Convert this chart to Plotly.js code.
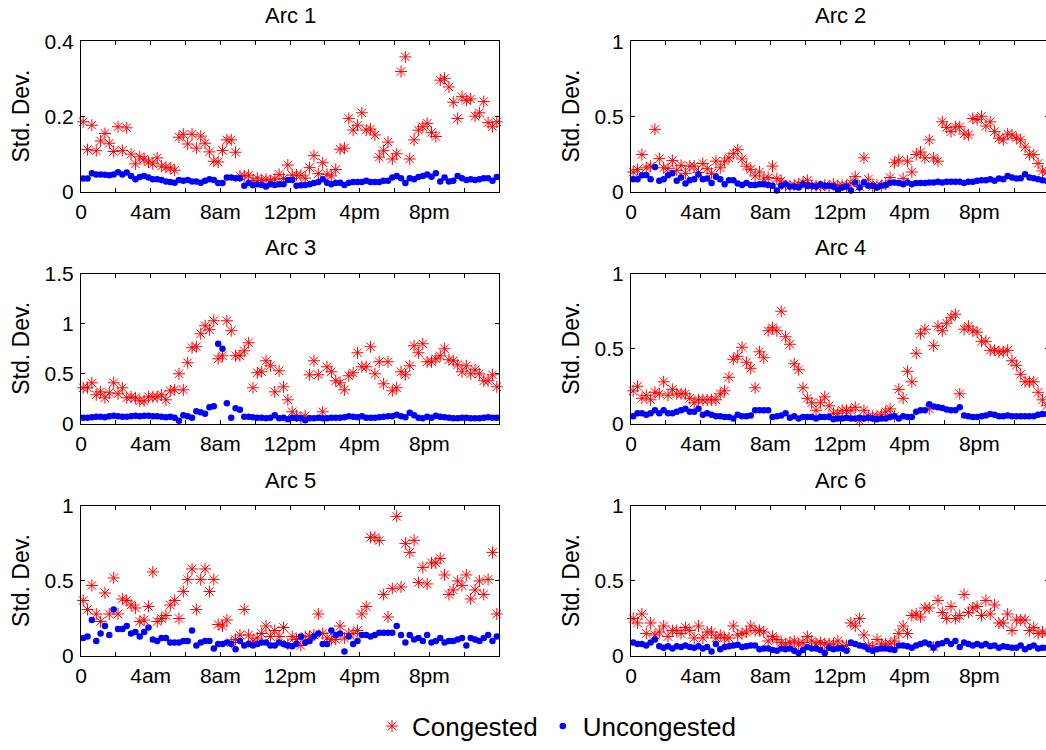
<!DOCTYPE html>
<html>
<head>
<meta charset="utf-8">
<script src="https://cdn.plot.ly/plotly-3.0.1.min.js"></script>
<style>
  html, body { margin: 0; padding: 0; overflow: hidden; background: #fff; }
  #chart { width: 1050px; height: 750px; }
</style>
</head>
<body>
<div id="chart"></div>
<script>
// ---- Data (96 fifteen-minute intervals per day) ----
const arcTitles = ["Arc 1", "Arc 2", "Arc 3", "Arc 4", "Arc 5", "Arc 6"];
const seriesNames = ["Congested", "Uncongested"];
const xTickVals = [0, 2, 4, 6, 8, 10, 12, 14, 16, 18, 20, 22];
const xTickText = ["0", "", "4am", "", "8am", "", "12pm", "", "4pm", "", "8pm", ""];
const yRanges = [[0, 0.4], [0, 1], [0, 1.5], [0, 1], [0, 1], [0, 1]];
const yTicks = [[0, 0.2, 0.4], [0, 0.5, 1], [0, 0.5, 1, 1.5], [0, 0.5, 1], [0, 0.5, 1], [0, 0.5, 1]];

const arc1Congested = [0.186,0.112,0.177,0.109,0.135,0.155,0.129,0.107,0.173,0.110,
0.170,0.100,0.074,0.093,0.087,0.079,0.074,0.090,0.068,0.065,
0.063,0.057,0.145,0.153,0.127,0.153,0.116,0.148,0.129,0.106,
0.081,0.079,0.110,0.138,0.138,0.105,0.042,0.042,0.044,0.030,
0.036,0.030,0.033,0.029,0.033,0.046,0.035,0.071,0.044,0.044,
0.044,0.036,0.064,0.096,0.048,0.077,0.046,0.042,0.059,0.113,
0.116,0.195,0.164,0.177,0.210,0.164,0.167,0.151,0.092,0.109,
0.132,0.087,0.101,0.320,0.359,0.087,0.138,0.164,0.173,0.182,
0.158,0.147,0.297,0.302,0.279,0.238,0.195,0.253,0.243,0.247,
0.201,0.210,0.240,0.184,0.173,0.186];
const arc1Uncongested = [0.035,0.035,0.049,0.046,0.046,0.045,0.044,0.046,0.052,0.046,
0.051,0.042,0.033,0.039,0.042,0.038,0.033,0.033,0.031,0.027,
0.026,0.024,0.031,0.029,0.031,0.027,0.027,0.024,0.029,0.033,
0.031,0.023,0.023,0.038,0.038,0.036,0.036,0.016,0.023,0.017,
0.020,0.018,0.014,0.020,0.018,0.020,0.020,0.031,0.031,0.016,
0.017,0.018,0.020,0.023,0.026,0.033,0.024,0.020,0.023,0.024,
0.018,0.024,0.026,0.026,0.026,0.029,0.026,0.026,0.026,0.029,
0.029,0.038,0.042,0.036,0.023,0.036,0.033,0.039,0.042,0.046,
0.040,0.049,0.027,0.038,0.027,0.029,0.042,0.036,0.031,0.033,
0.031,0.033,0.036,0.036,0.029,0.039];

const arc2Congested = [0.131,0.148,0.247,0.159,0.170,0.415,0.220,0.159,0.153,0.207,
0.142,0.175,0.122,0.170,0.170,0.127,0.188,0.153,0.122,0.203,
0.159,0.203,0.225,0.253,0.279,0.218,0.170,0.148,0.105,0.131,
0.083,0.094,0.170,0.087,0.072,0.039,0.039,0.044,0.050,0.061,
0.076,0.039,0.039,0.035,0.044,0.035,0.050,0.039,0.044,0.039,
0.057,0.100,0.035,0.225,0.083,0.035,0.044,0.039,0.050,0.094,
0.192,0.210,0.087,0.203,0.131,0.247,0.264,0.225,0.345,0.225,
0.203,0.465,0.428,0.400,0.432,0.432,0.384,0.378,0.487,0.480,
0.502,0.437,0.465,0.400,0.356,0.345,0.384,0.378,0.356,0.345,
0.297,0.247,0.247,0.188,0.138,0.130];
const arc2Uncongested = [0.083,0.083,0.109,0.111,0.083,0.164,0.072,0.083,0.109,0.122,
0.072,0.094,0.055,0.076,0.083,0.116,0.083,0.087,0.057,0.100,
0.083,0.050,0.076,0.076,0.055,0.044,0.057,0.044,0.044,0.050,
0.050,0.044,0.039,0.007,0.039,0.050,0.035,0.035,0.028,0.050,
0.039,0.039,0.035,0.050,0.039,0.039,0.035,0.013,0.028,0.035,
0.007,0.061,0.028,0.061,0.039,0.039,0.028,0.039,0.044,0.057,
0.061,0.057,0.050,0.061,0.050,0.057,0.057,0.057,0.061,0.061,
0.066,0.061,0.066,0.066,0.066,0.066,0.057,0.066,0.066,0.072,
0.076,0.076,0.083,0.072,0.087,0.083,0.105,0.094,0.087,0.090,
0.116,0.094,0.090,0.083,0.076,0.070];

const arc3Congested = [0.36,0.36,0.41,0.29,0.32,0.26,0.31,0.41,0.30,0.36,
0.26,0.27,0.26,0.23,0.23,0.27,0.27,0.27,0.29,0.24,
0.33,0.34,0.50,0.34,0.61,0.76,0.77,0.90,0.98,0.94,
1.03,0.65,0.68,1.03,0.93,0.68,0.68,0.73,0.81,0.36,
0.51,0.52,0.63,0.58,0.32,0.53,0.37,0.24,0.12,0.08,
0.06,0.08,0.49,0.63,0.49,0.12,0.57,0.52,0.43,0.41,
0.34,0.48,0.51,0.71,0.57,0.57,0.77,0.50,0.62,0.40,
0.62,0.33,0.36,0.52,0.49,0.58,0.78,0.71,0.80,0.62,
0.62,0.65,0.68,0.75,0.64,0.63,0.59,0.52,0.58,0.50,
0.54,0.50,0.43,0.43,0.49,0.37];
const arc3Uncongested = [0.060,0.060,0.065,0.070,0.070,0.065,0.075,0.080,0.075,0.070,
0.070,0.075,0.080,0.075,0.080,0.080,0.075,0.075,0.070,0.065,
0.070,0.060,0.030,0.085,0.075,0.060,0.125,0.115,0.100,0.165,
0.175,0.800,0.750,0.205,0.060,0.155,0.140,0.070,0.070,0.065,
0.060,0.060,0.055,0.060,0.085,0.055,0.060,0.045,0.060,0.055,
0.055,0.035,0.055,0.055,0.060,0.055,0.055,0.060,0.060,0.060,
0.065,0.075,0.070,0.065,0.075,0.060,0.060,0.060,0.065,0.070,
0.075,0.075,0.090,0.075,0.065,0.110,0.085,0.060,0.055,0.070,
0.060,0.080,0.070,0.065,0.060,0.055,0.055,0.060,0.060,0.055,
0.055,0.055,0.060,0.065,0.060,0.060];

const arc4Congested = [0.22,0.25,0.17,0.19,0.16,0.21,0.20,0.28,0.19,0.23,
0.20,0.20,0.20,0.17,0.14,0.16,0.16,0.16,0.16,0.16,
0.20,0.22,0.31,0.43,0.45,0.51,0.41,0.37,0.24,0.48,
0.44,0.62,0.64,0.62,0.75,0.58,0.53,0.40,0.36,0.24,
0.17,0.14,0.09,0.14,0.18,0.12,0.07,0.07,0.09,0.09,
0.09,0.11,0.02,0.09,0.05,0.05,0.05,0.06,0.08,0.10,
0.05,0.23,0.17,0.35,0.28,0.47,0.60,0.63,0.10,0.52,
0.65,0.62,0.67,0.71,0.73,0.20,0.63,0.65,0.62,0.61,
0.55,0.55,0.49,0.49,0.48,0.48,0.49,0.42,0.39,0.33,
0.28,0.28,0.28,0.21,0.16,0.12];
const arc4Uncongested = [0.050,0.070,0.070,0.060,0.070,0.090,0.070,0.090,0.070,0.070,
0.080,0.090,0.100,0.080,0.080,0.100,0.060,0.070,0.060,0.050,
0.050,0.045,0.045,0.035,0.060,0.050,0.050,0.055,0.090,0.090,
0.090,0.090,0.045,0.050,0.055,0.070,0.040,0.050,0.035,0.045,
0.045,0.045,0.035,0.045,0.045,0.045,0.030,0.035,0.035,0.040,
0.035,0.035,0.040,0.035,0.040,0.035,0.030,0.035,0.035,0.045,
0.050,0.035,0.050,0.045,0.045,0.080,0.090,0.090,0.130,0.115,
0.110,0.105,0.095,0.090,0.090,0.110,0.055,0.050,0.045,0.045,
0.050,0.055,0.065,0.060,0.050,0.050,0.055,0.050,0.050,0.050,
0.050,0.050,0.050,0.060,0.065,0.065];

const arc5Congested = [0.37,0.31,0.47,0.28,0.23,0.42,0.28,0.52,0.28,0.38,
0.37,0.34,0.32,0.23,0.24,0.33,0.56,0.23,0.25,0.27,
0.34,0.37,0.25,0.43,0.51,0.58,0.31,0.51,0.58,0.43,
0.51,0.21,0.20,0.24,0.09,0.11,0.14,0.31,0.14,0.10,
0.12,0.15,0.20,0.13,0.17,0.13,0.19,0.08,0.13,0.11,
0.07,0.13,0.13,0.14,0.28,0.15,0.12,0.11,0.11,0.20,
0.12,0.15,0.15,0.17,0.28,0.33,0.79,0.79,0.77,0.41,
0.26,0.45,0.93,0.46,0.75,0.69,0.77,0.49,0.59,0.48,
0.62,0.62,0.65,0.54,0.41,0.44,0.50,0.47,0.54,0.38,
0.44,0.50,0.41,0.51,0.69,0.28];
const arc5Uncongested = [0.12,0.13,0.24,0.10,0.15,0.20,0.14,0.31,0.18,0.18,
0.20,0.15,0.16,0.13,0.16,0.19,0.11,0.10,0.12,0.12,
0.09,0.09,0.09,0.10,0.10,0.17,0.07,0.09,0.10,0.10,
0.05,0.08,0.08,0.09,0.08,0.045,0.10,0.07,0.08,0.07,
0.08,0.09,0.09,0.07,0.07,0.09,0.08,0.07,0.065,0.08,
0.13,0.09,0.10,0.13,0.15,0.08,0.08,0.17,0.14,0.15,
0.03,0.13,0.08,0.10,0.14,0.14,0.13,0.14,0.155,0.155,
0.155,0.155,0.20,0.14,0.09,0.14,0.11,0.12,0.10,0.14,
0.09,0.10,0.12,0.09,0.10,0.10,0.11,0.12,0.07,0.12,
0.11,0.10,0.12,0.14,0.10,0.13];

const arc6Congested = [0.25,0.22,0.28,0.15,0.22,0.14,0.16,0.20,0.13,0.17,
0.17,0.15,0.19,0.17,0.12,0.20,0.12,0.16,0.16,0.12,
0.14,0.12,0.12,0.20,0.14,0.15,0.16,0.20,0.17,0.17,
0.16,0.10,0.13,0.11,0.09,0.08,0.09,0.10,0.08,0.09,
0.13,0.10,0.08,0.09,0.08,0.08,0.08,0.10,0.07,0.07,
0.22,0.20,0.25,0.14,0.07,0.06,0.11,0.08,0.08,0.08,
0.10,0.15,0.20,0.15,0.27,0.28,0.26,0.32,0.32,0.06,
0.37,0.29,0.25,0.33,0.25,0.27,0.41,0.29,0.32,0.33,
0.27,0.37,0.28,0.34,0.22,0.22,0.28,0.17,0.24,0.24,
0.24,0.17,0.19,0.15,0.16,0.15];
const arc6Uncongested = [0.090,0.080,0.080,0.070,0.090,0.110,0.065,0.055,0.065,0.050,
0.065,0.060,0.070,0.060,0.055,0.065,0.050,0.060,0.030,0.080,
0.045,0.060,0.065,0.070,0.075,0.060,0.065,0.070,0.070,0.045,
0.050,0.050,0.040,0.035,0.050,0.045,0.050,0.035,0.020,0.040,
0.060,0.050,0.050,0.040,0.020,0.055,0.045,0.050,0.050,0.035,
0.090,0.080,0.070,0.065,0.045,0.035,0.045,0.050,0.050,0.045,
0.040,0.070,0.070,0.065,0.055,0.070,0.080,0.090,0.080,0.055,
0.080,0.085,0.100,0.080,0.100,0.060,0.090,0.080,0.070,0.080,
0.070,0.080,0.065,0.070,0.055,0.065,0.060,0.055,0.055,0.070,
0.045,0.060,0.070,0.050,0.055,0.055];

const congestedSeries = [arc1Congested, arc2Congested, arc3Congested, arc4Congested, arc5Congested, arc6Congested];
const uncongestedSeries = [arc1Uncongested, arc2Uncongested, arc3Uncongested, arc4Uncongested, arc5Uncongested, arc6Uncongested];

// time of day (hours) for each 15-minute slot
const hours = arc1Congested.map((_, k) => (k + 0.5) / 4);

// ---- Layout geometry (pixels in a 1050x750 paper) ----
const W = 1050, H = 750;
const cols = [[81, 499], [631, 1049]];
const rows = [[42, 194], [277, 429], [512, 664]];
const FONT = "Liberation Sans, Arial, Helvetica, sans-serif";

const traces = [];
const layout = {
  width: W, height: H,
  margin: {l: 0, r: 0, t: 0, b: 0},
  paper_bgcolor: "#fff", plot_bgcolor: "#fff",
  font: {family: FONT, color: "#000", size: 21},
  showlegend: true,
  legend: {
    orientation: "h", x: 0.53, xanchor: "center", y: 1 - 735 / H, yanchor: "middle",
    font: {size: 26, color: "#000", family: FONT}, bgcolor: "rgba(0,0,0,0)",
    itemsizing: "trace", tracegroupgap: 0, itemwidth: 30
  },
  annotations: []
};

for (let i = 0; i < 6; i++) {
  const c = cols[i % 2], r = rows[Math.floor(i / 2)];
  const xa = i === 0 ? "xaxis" : "xaxis" + (i + 1);
  const ya = i === 0 ? "yaxis" : "yaxis" + (i + 1);
  const xr = i === 0 ? "x" : "x" + (i + 1);
  const yr = i === 0 ? "y" : "y" + (i + 1);
  const common = {
    showline: true, linecolor: "#000", linewidth: 1, mirror: "ticks",
    ticks: "inside", ticklen: 4, tickwidth: 1, tickcolor: "#000",
    showgrid: false, zeroline: false, fixedrange: true,
    tickfont: {size: 21, color: "#000", family: FONT}
  };
  layout[xa] = Object.assign({}, common, {
    domain: [c[0] / W, c[1] / W], anchor: yr, range: [0, 24],
    tickmode: "array", tickvals: xTickVals, ticktext: xTickText, ticklabelstandoff: 1
  });
  layout[ya] = Object.assign({}, common, {
    domain: [1 - r[1] / H, 1 - r[0] / H], anchor: xr, range: yRanges[i],
    tickmode: "array", tickvals: yTicks[i], ticktext: yTicks[i].map(String), ticklabelstandoff: 2
  });
  layout.annotations.push({
    text: arcTitles[i], xref: "paper", yref: "paper",
    x: (c[0] + c[1]) / 2 / W, y: 1 - (r[0] - 26) / H, xanchor: "center", yanchor: "middle",
    showarrow: false, font: {size: 22, color: "#000", family: FONT}
  });
  layout.annotations.push({
    text: "Std. Dev.", xref: "paper", yref: "paper", textangle: -90,
    x: (c[0] - 60) / W, y: 1 - (r[0] + r[1]) / 2 / H, xanchor: "center", yanchor: "middle",
    showarrow: false, font: {size: 23, color: "#000", family: FONT}
  });

  traces.push({
    type: "scatter", mode: "markers", name: seriesNames[0],
    x: hours, y: congestedSeries[i], xaxis: xr, yaxis: yr,
    legendgroup: "c", showlegend: i === 0, cliponaxis: false,
    marker: {symbol: "asterisk-open", size: 10, color: "rgb(255,0,0)", line: {color: "rgb(255,0,0)", width: 1}}
  });
  traces.push({
    type: "scatter", mode: "markers", name: seriesNames[1],
    x: hours, y: uncongestedSeries[i], xaxis: xr, yaxis: yr,
    legendgroup: "u", showlegend: i === 0, cliponaxis: false,
    marker: {symbol: "circle", size: 6.5, color: "rgb(0,0,255)", line: {width: 0}}
  });
}

Plotly.newPlot("chart", traces, layout, {displayModeBar: false, staticPlot: true});
</script>
</body>
</html>
